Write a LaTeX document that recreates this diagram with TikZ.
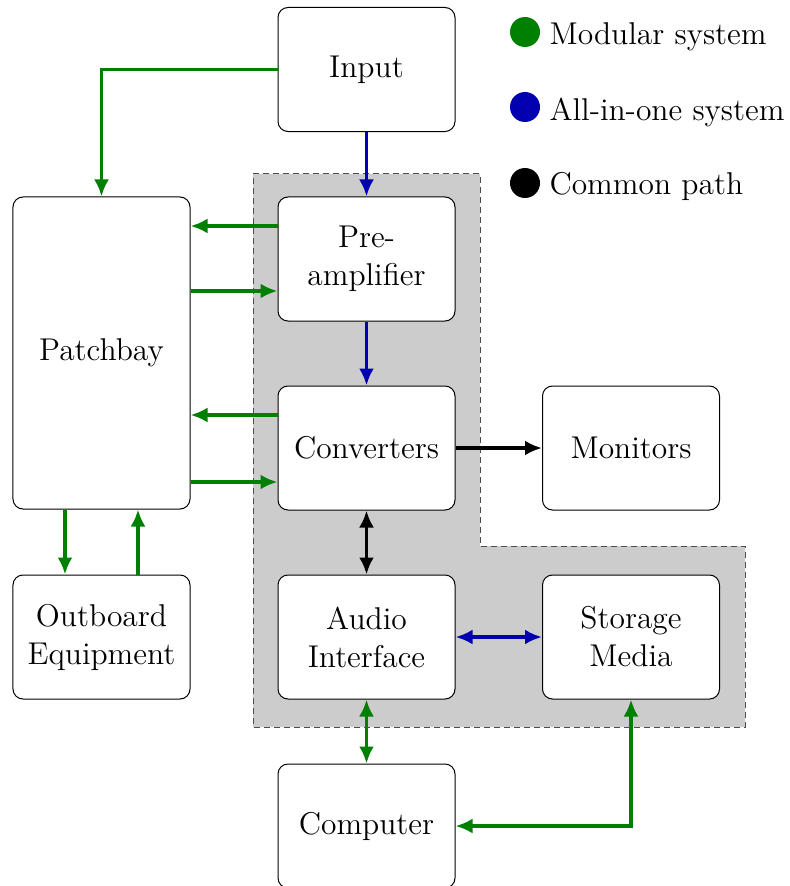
\documentclass[tikz,border=0pt]{standalone}
\usetikzlibrary{arrows.meta}
\definecolor{modgreen}{RGB}{0,128,0}
\definecolor{aioblue}{RGB}{0,0,176}
\begin{document}
\begin{tikzpicture}[x=0.4pt,y=-0.4pt,
  font=\fontsize{12.6}{15.2}\selectfont,
  box/.style={draw=black, line width=0.4pt, fill=white, rounded corners=4pt,
    minimum width=70.8pt, minimum height=49.6pt, inner sep=0pt, align=center},
  link/.style={line width=1.5pt, -{Latex[length=6.8pt,width=6pt]}},
  dlink/.style={line width=1.5pt, {Latex[length=6.8pt,width=6pt]}-{Latex[length=6.8pt,width=6pt]}},
  keydot/.style={circle, fill, minimum size=12pt, inner sep=0pt},
  keytext/.style={anchor=base west, inner sep=0pt}]
\useasboundingbox (0,0) rectangle (789,886);

% shaded signal-chain region
\fill[black!20] (253,174) -- (480,174) -- (480,546) -- (745,546) -- (745,727) -- (253,727) -- cycle;
\draw[black!70, line width=0.4pt, dash pattern=on 2.4pt off 1.6pt]
  (253,174) -- (480,174) -- (480,546) -- (745,546) -- (745,727) -- (253,727) -- cycle;

% blocks
\node[box] (in)   at (366.5,69.5) {Input};
\node[box] (pre)  at (366.5,259)  {Pre-\\amplifier};
\node[box] (conv) at (366.5,448)  {Converters};
\node[box] (ai)   at (366.5,637)  {Audio\\Interface};
\node[box] (comp) at (366.5,826)  {Computer};
\node[box, minimum height=124.8pt] (pb) at (101.5,353) {Patchbay};
\node[box] (ob)   at (101.5,637)  {Outboard\\Equipment};
\node[box] (mon)  at (631,448)    {Monitors};
\node[box] (sto)  at (631,637)    {Storage\\Media};

% modular paths
\draw[link, modgreen] (in.west) -| (pb.north);
\draw[link, modgreen] (pre.west |- 0,226) -- (pb.east |- 0,226);
\draw[link, modgreen] (pb.east |- 0,291) -- (pre.west |- 0,291);
\draw[link, modgreen] (conv.west |- 0,415) -- (pb.east |- 0,415);
\draw[link, modgreen] (pb.east |- 0,482) -- (conv.west |- 0,482);
\draw[link, modgreen] (65,0 |- pb.south) -- (65,0 |- ob.north);
\draw[link, modgreen] (138,0 |- ob.north) -- (138,0 |- pb.south);
\draw[dlink, modgreen] (ai.south) -- (comp.north);
\draw[dlink, modgreen] (sto.south) -- (sto.south |- comp.east) -- (comp.east);

% all-in-one paths
\draw[link, aioblue] (in.south) -- (pre.north);
\draw[link, aioblue] (pre.south) -- (conv.north);
\draw[dlink, aioblue] (ai.east) -- (sto.west);

% common paths
\draw[link, black] (conv.east) -- (mon.west);
\draw[dlink, black] (conv.south) -- (ai.north);

% legend
\node[keydot, modgreen] (k1) at (525,32) {};
\node[keydot, aioblue]  (k2) at (525,107) {};
\node[keydot, black]    (k3) at (525,183) {};
\node[keytext] (t1) at (549,45)  {Modular system};
\node[keytext] (t2) at (549,120) {All-in-one system};
\node[keytext] (t3) at (549,195) {Common path};
\end{tikzpicture}
\end{document}
